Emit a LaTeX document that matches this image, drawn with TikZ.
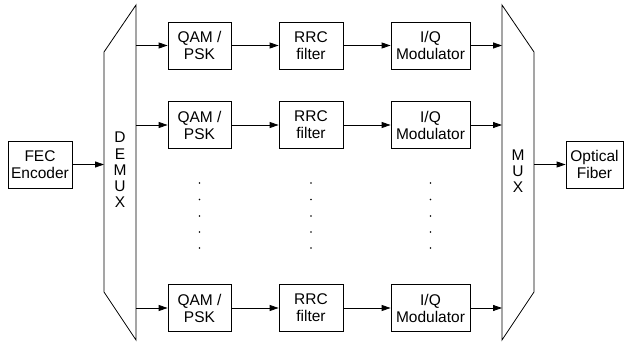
\documentclass[tikz,border=0pt]{standalone}
\usepackage{fontspec}
\setmainfont{Liberation Sans}
\usetikzlibrary{arrows.meta}
\begin{document}
\begin{tikzpicture}[x=1pt,y=-1pt,
  blk/.style={draw, line width=0.8pt, minimum height=47pt, inner sep=0pt, align=center, font=\fontsize{15.5}{17}\selectfont},
  arr/.style={line width=0.8pt, -{Triangle[length=9pt,width=6pt]}},
  lbl/.style={align=center, inner sep=0pt, font=\fontsize{15.5}{16.2}\selectfont},
  dot/.style={circle, fill, inner sep=0pt, minimum size=1.8pt}]
\useasboundingbox (0,0) rectangle (625,343);
% FEC
\node[blk, minimum width=64pt] (fec) at (40,164.5) {FEC\\Encoder};
% DEMUX
\draw[line width=0.8pt] (104,52) -- (136,5) -- (136,340) -- (104,292) -- cycle;
\node[lbl] (demux) at (120,170) {D\\E\\M\\U\\X};
\coordinate (dmin) at (104,164.5);
% MUX
\draw[line width=0.8pt] (502,5) -- (534,52) -- (534,292) -- (502,340) -- cycle;
\node[lbl] (mux) at (518,171) {M\\U\\X};
\coordinate (mxout) at (534,164.5);
% Optical fiber
\node[blk, minimum width=57pt] (fib) at (594.5,164.5) {Optical\\Fiber};
\draw[arr] (fec.east) -- (dmin);
\draw[arr] (mxout) -- (fib.west);
% rows
\foreach \r/\y in {1/45.5, 2/125, 3/308} {
  \coordinate (din\r) at (136,\y);
  \coordinate (mout\r) at (502,\y);
  \node[blk, minimum width=63pt] (qam\r) at (199.5,\y) {QAM /\\PSK};
  \node[blk, minimum width=64pt] (rrc\r) at (311,\y) {RRC\\filter};
  \node[blk, minimum width=79pt] (iq\r) at (430.5,\y) {I/Q\\Modulator};
  \draw[arr] (din\r) -- (qam\r.west);
  \draw[arr] (qam\r.east) -- (rrc\r.west);
  \draw[arr] (rrc\r.east) -- (iq\r.west);
  \draw[arr] (iq\r.east) -- (mout\r);
}
% dots
\foreach \x in {199.5, 311, 430.5} {
  \foreach \y in {183, 199.5, 216, 232, 248} {
    \node[dot] at (\x,\y) {};
  }
}
\end{tikzpicture}
\end{document}
